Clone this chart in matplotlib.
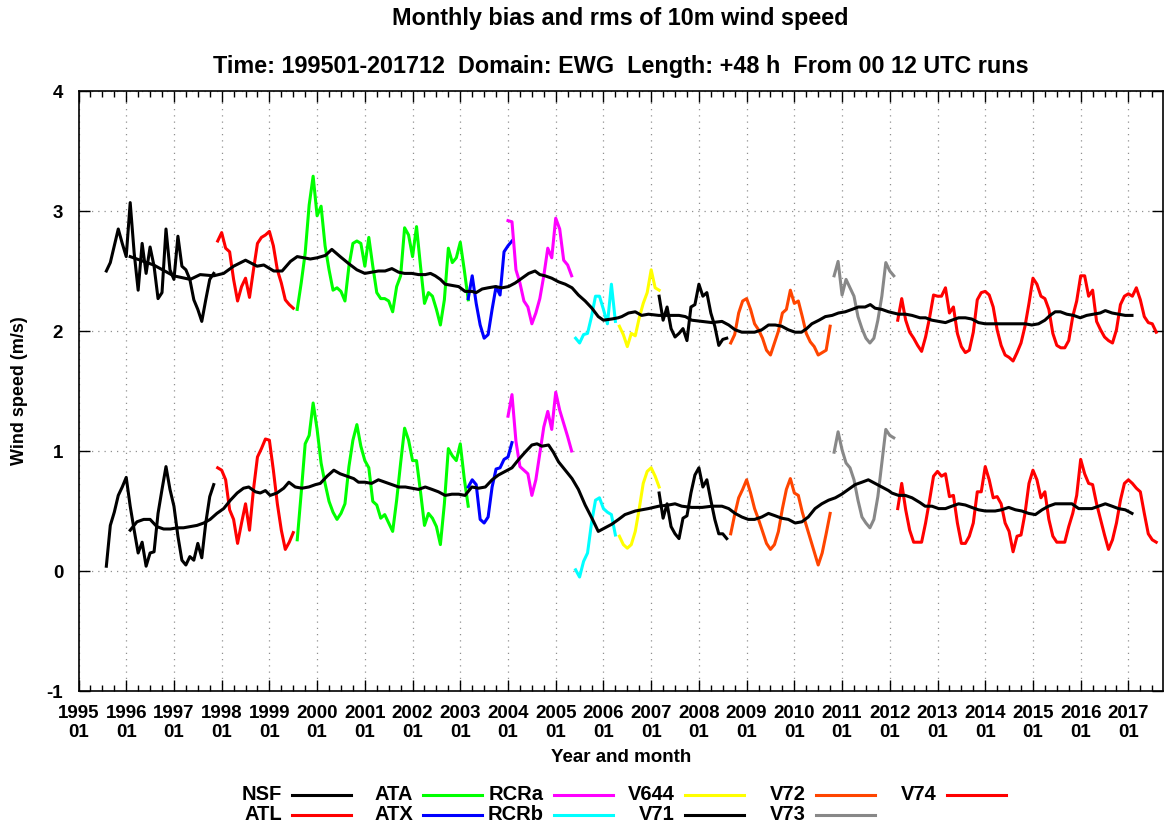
import matplotlib
matplotlib.use("Agg")
import matplotlib.pyplot as plt
from matplotlib.lines import Line2D

plt.rcParams['font.family'] = ['Liberation Sans', 'DejaVu Sans']
plt.rcParams['font.weight'] = 'bold'

# month index: 0 = 1995-01
models = ["NSF", "ATL", "ATA", "ATX", "RCRa", "RCRb", "V644", "V71", "V72", "V73", "V74"]
colors = ["#000000", "#ff0000", "#00ff00", "#0000ff", "#ff00ff", "#00ffff",
          "#ffff00", "#000000", "#ff4500", "#888888", "#ff0000"]
first_month = [7, 35, 55, 98, 108, 125, 136, 146, 164, 190, 206]

rms = [
    [2.50, 2.57, 2.71, 2.85, 2.73, 2.62, 3.07, 2.65, 2.34, 2.73, 2.48, 2.70, 2.54, 2.27,
     2.32, 2.85, 2.51, 2.43, 2.79, 2.54, 2.51, 2.43, 2.26, 2.18, 2.08, 2.26, 2.43, 2.48],
    [2.75, 2.82, 2.69, 2.66, 2.43, 2.25, 2.37, 2.44, 2.28, 2.51, 2.73, 2.78, 2.80, 2.83,
     2.71, 2.51, 2.40, 2.26, 2.22, 2.19],
    [2.18, 2.40, 2.65, 3.05, 3.29, 2.96, 3.04, 2.71, 2.51, 2.34, 2.36, 2.33, 2.25, 2.54,
     2.73, 2.75, 2.73, 2.54, 2.78, 2.54, 2.32, 2.27, 2.27, 2.25, 2.16, 2.37, 2.46, 2.86,
     2.80, 2.62, 2.87, 2.54, 2.23, 2.32, 2.29, 2.18, 2.05, 2.26, 2.69, 2.57, 2.61, 2.74,
     2.51, 2.26],
    [2.27, 2.46, 2.23, 2.05, 1.94, 1.97, 2.18, 2.37, 2.30, 2.66, 2.71, 2.75],
    [2.92, 2.91, 2.51, 2.40, 2.25, 2.20, 2.06, 2.15, 2.27, 2.46, 2.69, 2.61, 2.94, 2.85,
     2.59, 2.55, 2.46],
    [1.94, 1.90, 1.97, 1.98, 2.12, 2.29, 2.29, 2.18, 2.06, 2.39, 2.08],
    [2.04, 1.97, 1.87, 1.98, 1.96, 2.11, 2.23, 2.32, 2.51, 2.36, 2.34],
    [2.29, 2.09, 2.20, 2.02, 1.95, 1.98, 2.02, 1.92, 2.20, 2.22, 2.39, 2.29, 2.32, 2.15,
     2.04, 1.88, 1.93, 1.94],
    [1.90, 1.97, 2.15, 2.25, 2.27, 2.18, 2.06, 2.01, 1.94, 1.84, 1.80, 1.90, 2.00, 2.15,
     2.18, 2.34, 2.23, 2.25, 2.12, 1.98, 1.91, 1.87, 1.80, 1.82, 1.84, 2.04],
    [2.46, 2.58, 2.30, 2.43, 2.36, 2.29, 2.12, 2.02, 1.94, 1.90, 1.94, 2.09, 2.29, 2.57,
     2.50, 2.46],
    [2.09, 2.27, 2.09, 1.99, 1.94, 1.88, 1.83, 1.95, 2.11, 2.30,
     2.29, 2.29, 2.36, 2.15, 2.20, 1.98, 1.87, 1.82, 1.84, 1.99,
     2.26, 2.32, 2.33, 2.30, 2.20, 2.01, 1.88, 1.80, 1.78, 1.75,
     1.82, 1.90, 2.04, 2.23, 2.44, 2.39, 2.29, 2.27, 2.18, 1.98,
     1.88, 1.86, 1.86, 1.92, 2.12, 2.25, 2.46, 2.46, 2.29, 2.34,
     2.08, 2.01, 1.95, 1.92, 1.90, 2.01, 2.22, 2.29, 2.31, 2.29,
     2.36, 2.26, 2.12, 2.07, 2.06, 1.99],
]

bias = [
    [0.04, 0.38, 0.49, 0.63, 0.70, 0.78, 0.54, 0.34, 0.15, 0.24, 0.04, 0.15, 0.16, 0.48,
     0.68, 0.87, 0.68, 0.54, 0.29, 0.09, 0.05, 0.12, 0.09, 0.23, 0.11, 0.40, 0.62, 0.72],
    [0.86, 0.84, 0.76, 0.51, 0.43, 0.23, 0.40, 0.56, 0.34, 0.68, 0.95, 1.02, 1.10, 1.09,
     0.84, 0.56, 0.34, 0.18, 0.24, 0.32],
    [0.26, 0.65, 1.06, 1.13, 1.40, 1.18, 0.90, 0.73, 0.58, 0.49, 0.43, 0.48, 0.56, 0.87,
     1.09, 1.22, 1.04, 0.92, 0.86, 0.58, 0.55, 0.44, 0.47, 0.40, 0.33, 0.59, 0.90, 1.19,
     1.09, 0.92, 0.92, 0.66, 0.38, 0.48, 0.44, 0.37, 0.22, 0.56, 1.02, 0.96, 0.92, 1.06,
     0.77, 0.54],
    [0.70, 0.76, 0.72, 0.43, 0.40, 0.45, 0.70, 0.85, 0.86, 0.93, 0.95, 1.07],
    [1.29, 1.47, 1.08, 0.87, 0.84, 0.81, 0.63, 0.76, 0.98, 1.20, 1.33, 1.18, 1.49, 1.34,
     1.23, 1.12, 1.00],
    [0.01, -0.05, 0.08, 0.15, 0.40, 0.59, 0.61, 0.52, 0.49, 0.47, 0.30],
    [0.29, 0.22, 0.19, 0.22, 0.33, 0.52, 0.73, 0.83, 0.86, 0.79, 0.70],
    [0.65, 0.44, 0.56, 0.37, 0.31, 0.27, 0.44, 0.46, 0.65, 0.80, 0.86, 0.70, 0.76, 0.59,
     0.43, 0.31, 0.31, 0.27],
    [0.31, 0.47, 0.61, 0.68, 0.76, 0.65, 0.52, 0.43, 0.33, 0.23, 0.18, 0.22, 0.33, 0.52,
     0.68, 0.77, 0.65, 0.63, 0.49, 0.38, 0.27, 0.16, 0.05, 0.15, 0.31, 0.48],
    [0.99, 1.16, 1.01, 0.90, 0.86, 0.76, 0.59, 0.45, 0.40, 0.36, 0.43, 0.62, 0.90, 1.18,
     1.13, 1.11],
    [0.52, 0.73, 0.51, 0.34, 0.24, 0.24, 0.24, 0.40, 0.59, 0.79,
     0.83, 0.79, 0.81, 0.62, 0.63, 0.40, 0.23, 0.23, 0.29, 0.40,
     0.66, 0.66, 0.87, 0.76, 0.61, 0.62, 0.56, 0.40, 0.33, 0.16,
     0.29, 0.30, 0.48, 0.73, 0.84, 0.76, 0.61, 0.66, 0.43, 0.29,
     0.24, 0.24, 0.24, 0.37, 0.48, 0.63, 0.93, 0.81, 0.73, 0.72,
     0.56, 0.43, 0.30, 0.18, 0.26, 0.40, 0.59, 0.73, 0.76, 0.73,
     0.69, 0.66, 0.48, 0.31, 0.26, 0.24],
]

# running means
mean_rms_month = [13, 18.9, 23.9, 28.1, 30.6, 34, 36.5, 39, 42, 44.9, 46.6, 49.1, 51.2, 53.3,
                  55, 58.3, 60, 62.1, 63.7, 65.8, 68, 70, 72, 73.7, 75.4, 77.1, 78.8, 80.5,
                  82, 83.8, 85.5, 87.2, 88.5, 89.7, 91, 92.2, 93.9, 95.6, 97.2, 98.9, 100,
                  101.5, 103, 104.8, 106.5, 108.1, 109.8, 111.5, 113.2, 114.8, 116, 117.3,
                  119, 120.7, 122.4, 124.1, 125.7, 127.4, 129.1, 130.7, 132, 134.1, 135.7,
                  136.6, 138.3, 140, 141.6, 143.3, 145.9, 148.4, 151, 152.6, 154.2, 156.8,
                  159.3, 161.8, 163.5, 165.1, 166.8, 168.4, 170, 171.8, 173.5, 175.2, 176.8,
                  178.5, 180.2, 181.8, 183.1, 184.4, 186.2, 187.8, 189.5, 191.1, 192.8,
                  194.5, 196.1, 197.8, 199.1, 200.3, 202, 203.7, 206.2, 208, 209.6, 211.6,
                  213, 214.6, 216.3, 218, 219.6, 221.3, 223, 224.6, 226.3, 228, 229.7,
                  231.4, 233, 234.7, 236.4, 238, 239.7, 241.4, 243, 244.3, 245.6, 246.9,
                  248.5, 250.2, 251.9, 253.5, 255.2, 256.9, 258.2, 259.9, 261.5, 263.2, 264.9]
mean_rms = [2.62, 2.55, 2.46, 2.43, 2.47, 2.46, 2.48, 2.54, 2.59, 2.54, 2.55, 2.50, 2.50, 2.58,
            2.62, 2.60, 2.61, 2.63, 2.68, 2.62, 2.56, 2.51, 2.48, 2.49, 2.50, 2.50, 2.52, 2.49,
            2.48, 2.48, 2.47, 2.47, 2.48, 2.46, 2.43, 2.39, 2.38, 2.37, 2.33, 2.33, 2.32,
            2.35, 2.36, 2.37, 2.36, 2.37, 2.40, 2.44, 2.48, 2.50, 2.47, 2.46,
            2.44, 2.41, 2.39, 2.36, 2.30, 2.25, 2.19, 2.12, 2.09, 2.10, 2.11,
            2.12, 2.15, 2.16, 2.13, 2.14, 2.13, 2.13, 2.13, 2.12, 2.09, 2.08,
            2.07, 2.08, 2.05, 2.01, 1.99, 1.99, 1.99, 2.01, 2.05, 2.05, 2.04,
            2.01, 1.99, 1.99, 2.02, 2.06, 2.09, 2.12, 2.13, 2.15, 2.16,
            2.18, 2.20, 2.20, 2.22, 2.19, 2.18, 2.16, 2.14, 2.14, 2.13, 2.11,
            2.11, 2.09, 2.08, 2.07, 2.09, 2.11, 2.11, 2.10, 2.07, 2.06, 2.06,
            2.06, 2.06, 2.06, 2.06, 2.06, 2.05, 2.06, 2.09, 2.13, 2.16, 2.16,
            2.14, 2.13, 2.11, 2.13, 2.14, 2.15, 2.17, 2.15, 2.14, 2.13, 2.13]

mean_bias_month = [13, 14.7, 16.4, 18, 19.7, 21.4, 23.1, 24.8, 26.4, 28.1, 29.8, 31.5, 33.1,
                   34.8, 36.5, 38.2, 39.9, 41.5, 42.8, 44.5, 45.7, 47, 48.2, 49.9, 51.6,
                   52.9, 54.5, 56.2, 57.9, 59.6, 60.8, 62.5, 64.2, 65.8, 67.5, 69.2, 70.4,
                   72, 73.7, 75.4, 77.1, 78.8, 80.5, 82.2, 83.8, 85.5, 87.2, 88.9, 90.5,
                   92.2, 93.9, 95.6, 97.2, 98.9, 100.6, 102.3, 104, 105.6, 107.3, 109,
                   110.7, 112.3, 114, 115.3, 116.5, 118.2, 119.4, 120.7, 122.4, 124.1,
                   125.7, 127.4, 129.1, 130.7, 132.4, 134.1, 135.8, 137.4, 140, 141.7,
                   143.3, 145.9, 148.4, 150, 151.7, 154.2, 156.8, 159.3, 161.8, 163.5,
                   165.1, 166.8, 168.4, 170, 171.8, 173.5, 175.2, 176.8, 178.5, 180.2,
                   181.9, 183.5, 185.2, 186.9, 188.6, 190.3, 191.9, 193.6, 195.3, 197,
                   198.6, 200.3, 202, 203.7, 204.5, 206.2, 207.9, 209.6, 211.6, 212.9,
                   214.6, 216.3, 218, 219.6, 221.3, 223, 224.6, 226.3, 228, 230.5, 232.1,
                   233.9, 235.6, 237.2, 238.9, 240.6, 242.3, 243.9, 245.6, 247.3, 249.8,
                   251.5, 253.2, 254.8, 256.5, 258.2, 259.9, 261.5, 263.2, 264.9]
mean_bias = [0.34, 0.41, 0.43, 0.43, 0.37, 0.35, 0.35, 0.36, 0.36, 0.37, 0.38, 0.40, 0.43,
             0.48, 0.52, 0.59, 0.65, 0.69, 0.70, 0.66, 0.65, 0.67, 0.63, 0.65, 0.69,
             0.74, 0.70, 0.69, 0.70, 0.72, 0.73, 0.79, 0.84, 0.81, 0.79, 0.77, 0.74,
             0.74, 0.73, 0.76, 0.74, 0.72, 0.70, 0.70, 0.69, 0.68, 0.70, 0.68, 0.66,
             0.63, 0.64, 0.64, 0.63, 0.70, 0.69, 0.70, 0.76, 0.80, 0.83, 0.86,
             0.93, 0.99, 1.05, 1.06, 1.04, 1.05, 0.99, 0.91, 0.84, 0.77,
             0.68, 0.55, 0.44, 0.33, 0.36, 0.39, 0.43, 0.47, 0.50, 0.51,
             0.52, 0.54, 0.55, 0.56, 0.54, 0.53, 0.53, 0.54, 0.54, 0.52,
             0.48, 0.45, 0.43, 0.43, 0.45, 0.48, 0.46, 0.44, 0.43, 0.40,
             0.41, 0.45, 0.52, 0.56, 0.59, 0.61, 0.64, 0.68, 0.72, 0.74,
             0.76, 0.73, 0.70, 0.67, 0.65, 0.63, 0.63, 0.61, 0.57, 0.54,
             0.54, 0.52, 0.52, 0.54, 0.56, 0.55, 0.53, 0.51, 0.50, 0.50, 0.51,
             0.53, 0.51, 0.50, 0.48, 0.47, 0.51, 0.54, 0.56, 0.56, 0.56,
             0.52, 0.52, 0.52, 0.54, 0.56, 0.54, 0.52, 0.51, 0.48]

years = list(range(1995, 2018))

W, H = 1168, 827
fig = plt.figure(figsize=(W / 100, H / 100), dpi=100)
ax = fig.add_axes([78.5 / W, 1 - 691 / H, (1163 - 78.5) / W, 600 / H])

for name, color, m0, r, b in zip(models, colors, first_month, rms, bias):
    months = list(range(m0, m0 + len(r)))
    ax.plot(months, r, color=color, lw=2.2)
    ax.plot(months, b, color=color, lw=2.2)

ax.plot(mean_rms_month, mean_rms, color="black", lw=2.2)
ax.plot(mean_bias_month, mean_bias, color="black", lw=2.2)

ax.set_xlim(0, 272.7)
ax.set_ylim(-1, 4)
ax.set_xticks([12 * i for i in range(len(years))])
ax.set_xticklabels([f"{y}\n01" for y in years], fontsize=13.5, linespacing=1.15)
ax.set_xticks(list(range(0, 273, 3)), minor=True)
ax.set_yticks(range(-1, 5))
ax.set_yticklabels([str(v) for v in range(-1, 5)], fontsize=13.5)
ax.tick_params(which="both", direction="in", top=True, right=True, width=1)
ax.tick_params(which="major", length=8)
ax.tick_params(which="minor", length=4)
ax.tick_params(axis="x", which="major", pad=10)
ax.tick_params(axis="y", which="major", pad=11)
ax.grid(True, which="major", color="#909090", linestyle=(0, (1, 4)), lw=0.9)
ax.set_axisbelow(True)
for s in ax.spines.values():
    s.set_linewidth(1.2)

cx = (78.5 + 1163) / 2 / W
fig.text(cx, 1 - 19 / H, "Monthly bias and rms of 10m wind speed",
         ha="center", va="center", fontsize=16.8)
fig.text(cx, 1 - 67 / H,
         "Time: 199501-201712  Domain: EWG  Length: +48 h  From 00 12 UTC runs",
         ha="center", va="center", fontsize=16.8)
fig.text(cx, 1 - 758 / H, "Year and month", ha="center", va="center", fontsize=13.5)
fig.text(20 / W, 1 - 391 / H, "Wind speed (m/s)", rotation=90,
         ha="center", va="center", fontsize=13)

# gnuplot-style key: label right-aligned, sample line to the right
for i, (name, color) in enumerate(zip(models, colors)):
    col, row = divmod(i, 2)
    xe = 282 + 131 * col
    y = 1 - (795 + 20 * row) / H
    fig.text(xe / W, y, name, ha="right", va="center", fontsize=14.5)
    fig.add_artist(Line2D([(xe + 10) / W, (xe + 69) / W], [y, y], color=color, lw=2.2))

fig.savefig("out.png", dpi=100)
